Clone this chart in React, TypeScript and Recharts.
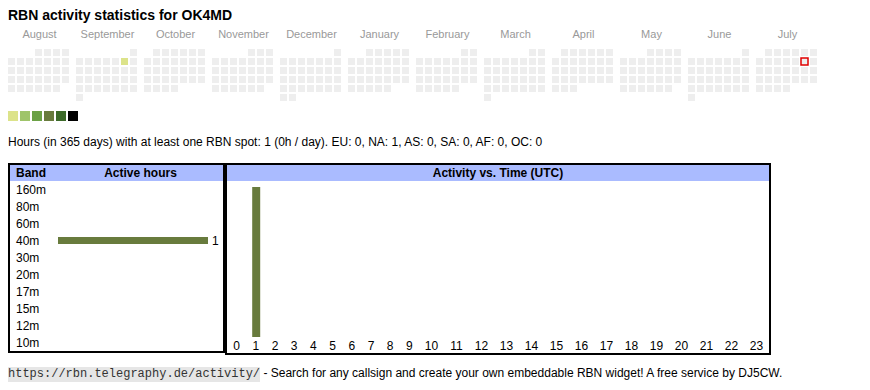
import React from "react";
import { BarChart, Bar, XAxis, YAxis, ScatterChart, Scatter, LabelList } from "recharts";

// calendar: Aug 2024 .. Jul 2025, weeks start on Monday
const monthNames = ["August", "September", "October", "November", "December", "January", "February", "March", "April", "May", "June", "July"];
const firstMonth = { year: 2024, month: 7 };
const activeDays = [{ date: "2024-09-07", level: 1 }];
const today = "2025-07-12";
const levelColors = ["#eeeeee", "#dce38a", "#9fc46a", "#6ba146", "#687b3d", "#3c6a29", "#000000"];

// per-band active hours
const bands = ["160m", "80m", "60m", "40m", "30m", "20m", "17m", "15m", "12m", "10m"];
const bandHours = [0, 0, 0, 1, 0, 0, 0, 0, 0, 0];

// activity vs. UTC hour
const hourLabels = ["0", "1", "2", "3", "4", "5", "6", "7", "8", "9", "10", "11", "12", "13", "14", "15", "16", "17", "18", "19", "20", "21", "22", "23"];
const hourActivity = [0, 1, 0, 0, 0, 0, 0, 0, 0, 0, 0, 0, 0, 0, 0, 0, 0, 0, 0, 0, 0, 0, 0, 0];

const continents = ["EU", "NA", "AS", "SA", "AF", "OC"];
const continentHours = [0, 1, 0, 0, 0, 0];
const totalHours = 1;

const FONT = '"Liberation Sans", Arial, sans-serif';
const BAR = "#687b3d";

const at = (x: number, y: number): React.CSSProperties => ({ position: "absolute", left: x - 8, top: y - 8 });

function buildMonth(i: number) {
  const y = firstMonth.year + Math.floor((firstMonth.month + i) / 12);
  const m = (firstMonth.month + i) % 12;
  const days = new Date(Date.UTC(y, m + 1, 0)).getUTCDate();
  const offset = (new Date(Date.UTC(y, m, 1)).getUTCDay() + 6) % 7;
  const out = [];
  for (let d = 1; d <= days; d++) {
    const key = `${y}-${String(m + 1).padStart(2, "0")}-${String(d).padStart(2, "0")}`;
    const hit = activeDays.find((a) => a.date === key);
    out.push({ key, wd: (offset + d - 1) % 7, wk: Math.floor((offset + d - 1) / 7), level: hit ? hit.level : 0 });
  }
  return out;
}

const DayCell = (props: any) => {
  const { cx, cy, payload } = props;
  if (payload.key === today) {
    return <rect x={cx - 3.5} y={cy - 3.5} width={7} height={7} fill={levelColors[payload.level]} stroke="#e00000" strokeWidth={1.5} />;
  }
  return <rect x={cx - 3.5} y={cy - 3.5} width={7} height={7} fill={levelColors[payload.level]} />;
};

function MonthBlock({ index }: { index: number }) {
  const data = buildMonth(index);
  const left = 8 + index * 68;
  return (
    <>
      <div style={{ ...at(left, 27), width: 63, height: 14, lineHeight: "14px", textAlign: "center", fontSize: 11, color: "#999" }}>
        {monthNames[index]}
      </div>
      <div style={at(left, 45)}>
        <ScatterChart width={68} height={60} margin={{ top: 7.5, right: 10.5, bottom: 7.5, left: 3.5 }}>
          <XAxis type="number" dataKey="wd" domain={[0, 6]} hide />
          <YAxis type="number" dataKey="wk" domain={[0, 5]} reversed hide />
          <Scatter data={data} shape={DayCell} isAnimationActive={false} />
        </ScatterChart>
      </div>
    </>
  );
}

const bandData = bands.map((band, i) => ({ band, hours: bandHours[i] }));
const hourData = hourLabels.map((hour, i) => ({ hour, value: hourActivity[i] }));

function HourChart({ data, width }: { data: { hour: string; value: number }[]; width: number }) {
  return (
    <BarChart width={width} height={172} data={data} margin={{ top: 6, right: 0, bottom: 0, left: 0 }}>
      <XAxis
        dataKey="hour"
        axisLine={false}
        tickLine={false}
        tickSize={2}
        tickMargin={2}
        interval={0}
        height={16}
        tick={{ fill: "#000", fontSize: 12, fontFamily: FONT }}
      />
      <YAxis hide domain={[0, 1]} />
      <Bar dataKey="value" fill={BAR} barSize={8} isAnimationActive={false} />
    </BarChart>
  );
}

export default function App() {
  return (
    <div style={{ position: "relative", width: 854, height: 374, fontFamily: FONT, color: "#000" }}>
      <div style={{ ...at(8, 7), fontSize: 14, lineHeight: "17px", fontWeight: "bold" }}>RBN activity statistics for OK4MD</div>

      {monthNames.map((_, i) => (
        <MonthBlock key={i} index={i} />
      ))}

      {levelColors.slice(1).map((c, i) => (
        <div key={c} style={{ ...at(8 + i * 12, 111), width: 10, height: 10, background: c }} />
      ))}

      <div style={{ ...at(8, 135), fontSize: 12, lineHeight: "14px", whiteSpace: "nowrap" }}>
        Hours (in 365 days) with at least one RBN spot: {totalHours} (0h / day).{" "}
        {continents.map((c, i) => `${c}: ${continentHours[i]}`).join(", ")}
      </div>

      {/* band table */}
      <div style={{ ...at(8, 163), width: 217, height: 190, border: "2px solid #000", boxSizing: "border-box" }}>
        <div style={{ position: "relative", height: 16, background: "#aabbff", fontSize: 12, fontWeight: "bold", lineHeight: "16px" }}>
          <span style={{ position: "absolute", left: 6 }}>Band</span>
          <span style={{ position: "absolute", left: 48, width: 165, textAlign: "center" }}>Active hours</span>
        </div>
        <BarChart width={213} height={170} data={bandData} layout="vertical" margin={{ top: 0, right: 15, bottom: 0, left: 0 }}>
          <XAxis type="number" domain={[0, 1]} hide />
          <YAxis
            type="category"
            dataKey="band"
            width={48}
            axisLine={false}
            tickLine={false}
            interval={0}
            tick={(p: any) => (
              <text x={6} y={p.y} dy={4} fontSize={12} fontFamily={FONT} fill="#000" textAnchor="start">
                {p.payload.value}
              </text>
            )}
          />
          <Bar dataKey="hours" fill={BAR} barSize={7} isAnimationActive={false}>
            <LabelList dataKey="hours" position="right" offset={4} fill="#000" fontSize={12} fontFamily={FONT} formatter={(v: any) => (v ? v : "")} />
          </Bar>
        </BarChart>
      </div>

      {/* hour table */}
      <div style={{ ...at(225, 163), width: 546, height: 192, border: "2px solid #000", boxSizing: "border-box" }}>
        <div style={{ height: 16, background: "#aabbff", fontSize: 12, fontWeight: "bold", lineHeight: "16px", textAlign: "center" }}>
          Activity vs. Time (UTC)
        </div>
        <div style={{ display: "flex" }}>
          <HourChart data={hourData.slice(0, 10)} width={192} />
          <HourChart data={hourData.slice(10)} width={350} />
        </div>
      </div>

      <div style={{ ...at(8, 366), fontSize: 12, lineHeight: "15px", whiteSpace: "nowrap" }}>
        <span style={{ display: "inline-block", background: "#e6e6e6", fontFamily: '"Liberation Mono", monospace', fontSize: 12, height: 15, color: "#333" }}>
          https://rbn.telegraphy.de/activity/
        </span>{" "}
        - Search for any callsign and create your own embeddable RBN widget! A free service by DJ5CW.
      </div>
    </div>
  );
}
